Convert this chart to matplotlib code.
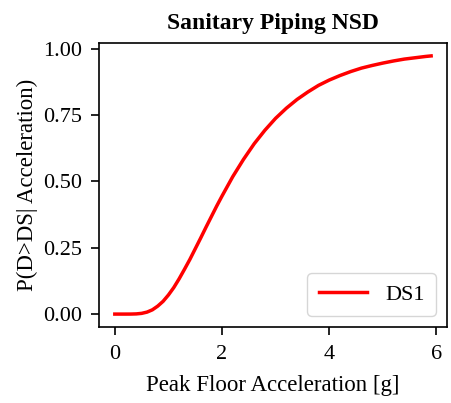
import matplotlib.pyplot as plt

# Fragility curve values
pfa = [0.0, 0.2, 0.3, 0.4, 0.5, 0.6, 0.7, 0.8, 0.9, 1.0, 1.1, 1.2, 1.3, 1.4, 1.5, 1.6,
       1.7, 1.8, 1.9, 2.0, 2.2, 2.4, 2.6, 2.8, 3.0, 3.2, 3.4, 3.6, 3.8, 4.0, 4.2, 4.4,
       4.6, 4.8, 5.0, 5.2, 5.4, 5.6, 5.8, 5.9]
prob_ds1 = [0.0, 0.0, 0.0001, 0.0007, 0.0027, 0.0074, 0.016, 0.030, 0.048, 0.072,
            0.100, 0.133, 0.169, 0.206, 0.246, 0.286, 0.327, 0.367, 0.407, 0.445,
            0.518, 0.583, 0.642, 0.693, 0.738, 0.776, 0.809, 0.837, 0.862, 0.882,
            0.899, 0.914, 0.927, 0.937, 0.946, 0.954, 0.961, 0.966, 0.971, 0.973]

plt.rcParams['font.family'] = ['Liberation Serif', 'DejaVu Serif']
plt.rcParams['font.size'] = 16

fig = plt.figure(figsize=(4.51, 4.03), dpi=100)
ax = fig.add_axes([0.2195, 0.1886, 0.7715, 0.7047])

ax.plot(pfa, prob_ds1, color='red', lw=2.5, label='DS1')

ax.set_xticks([0, 2, 4, 6])
ax.set_yticks([0.0, 0.25, 0.5, 0.75, 1.0])
ax.set_yticklabels(['0.00', '0.25', '0.50', '0.75', '1.00'])
ax.tick_params(length=6, width=1.2)
ax.tick_params(axis='x', pad=7)
ax.tick_params(axis='y', pad=6)
for s in ax.spines.values():
    s.set_linewidth(1.2)

ax.set_xlabel('Peak Floor Acceleration [g]', fontsize=16.5, labelpad=8)
ax.set_ylabel('P(D>DS| Acceleration)', fontsize=16.5, labelpad=4)
ax.set_title('Sanitary Piping NSD', fontweight='bold', fontsize=17, pad=10)
ax.legend(loc='lower right', handlelength=2.2, borderpad=0.5)

fig.savefig('out.png', dpi=100)
